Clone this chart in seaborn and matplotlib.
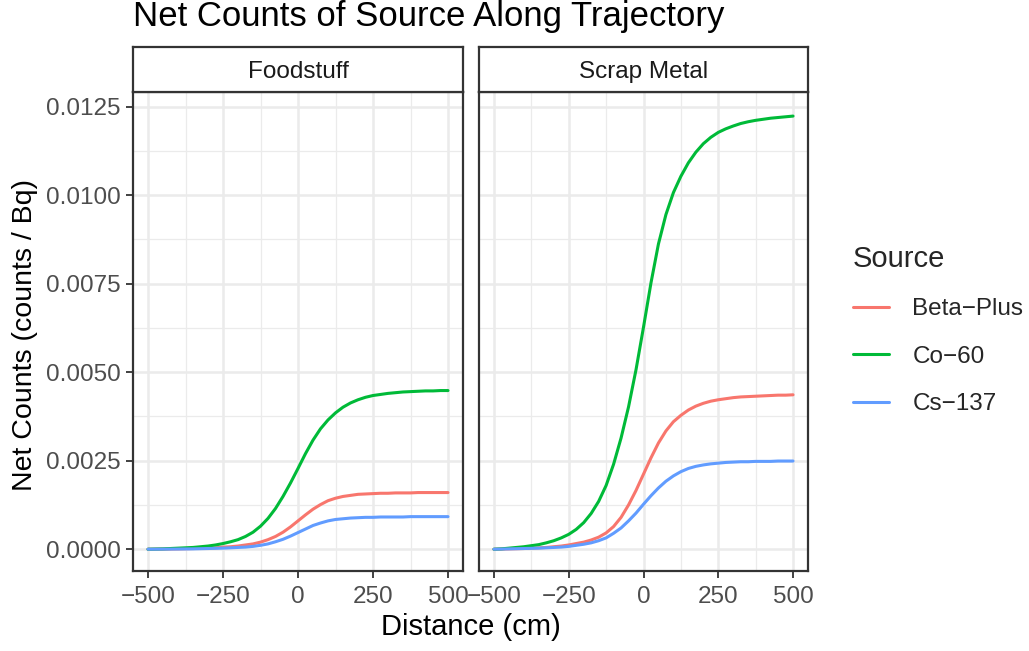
import numpy as np
import pandas as pd
import matplotlib
matplotlib.use("Agg")
import matplotlib.pyplot as plt
import seaborn as sns
from matplotlib.lines import Line2D

# ---- data ----
distance = [-500, -475, -450, -425, -400, -375, -350, -325, -300, -275, -250,
            -225, -200, -175, -150, -125, -100, -75, -50, -25, 0,
            25, 50, 75, 100, 125, 150, 175, 200, 225, 250,
            275, 300, 325, 350, 375, 400, 425, 450, 475, 500]
sources = ["Beta\u2212Plus", "Co\u221260", "Cs\u2212137"]
materials = ["Foodstuff", "Scrap Metal"]

food_beta = [0.0, 0.000002, 0.000005, 0.000007, 0.00001, 0.000015, 0.00002, 0.000025, 0.00003, 0.00004, 0.00006,
             0.00007, 0.00009, 0.00012, 0.00015, 0.00020, 0.00027, 0.00036, 0.00048, 0.00063, 0.00080,
             0.00097, 0.00113, 0.00126, 0.00137, 0.00144, 0.00149, 0.00152, 0.00155, 0.00156, 0.00157,
             0.00158, 0.00158, 0.00159, 0.00159, 0.00159, 0.00160, 0.00160, 0.00160, 0.00160, 0.00160]
food_co60 = [0.0, 0.000005, 0.00001, 0.00002, 0.00003, 0.00004, 0.00005, 0.00007, 0.00009, 0.00012, 0.00016,
             0.00021, 0.00027, 0.00036, 0.00048, 0.00065, 0.00087, 0.00115, 0.00149, 0.00187, 0.00228,
             0.00270, 0.00308, 0.00340, 0.00365, 0.00385, 0.00401, 0.00413, 0.00422, 0.00429, 0.00434,
             0.00437, 0.00440, 0.00442, 0.00444, 0.00445, 0.00446, 0.00447, 0.00447, 0.00448, 0.00448]
food_cs137 = [0.0, 0.000001, 0.000003, 0.000004, 0.000006, 0.000008, 0.00001, 0.000015, 0.00002, 0.000025, 0.00003,
              0.00004, 0.00005, 0.00006, 0.00008, 0.00011, 0.00015, 0.00021, 0.00028, 0.00037, 0.00047,
              0.00057, 0.00067, 0.00074, 0.00080, 0.00084, 0.00086, 0.00088, 0.00089, 0.00090, 0.00090,
              0.00091, 0.00091, 0.00091, 0.00091, 0.00092, 0.00092, 0.00092, 0.00092, 0.00092, 0.00092]
scrap_beta = [0.0, 0.000005, 0.00001, 0.000015, 0.00002, 0.00003, 0.00004, 0.00005, 0.00007, 0.00009, 0.00012,
              0.00016, 0.00020, 0.00026, 0.00034, 0.00046, 0.00064, 0.00090, 0.00125, 0.00166, 0.00212,
              0.00258, 0.00300, 0.00334, 0.00360, 0.00378, 0.00393, 0.00404, 0.00412, 0.00418, 0.00422,
              0.00425, 0.00428, 0.00430, 0.00431, 0.00432, 0.00433, 0.00434, 0.00435, 0.00435, 0.00436]
scrap_co60 = [0.0, 0.00001, 0.00003, 0.00005, 0.00007, 0.00010, 0.00013, 0.00018, 0.00024, 0.00032, 0.00042,
              0.00056, 0.00075, 0.00101, 0.00135, 0.00180, 0.00240, 0.00314, 0.00402, 0.00507, 0.00627,
              0.00752, 0.00862, 0.00945, 0.01007, 0.01053, 0.01091, 0.01121, 0.01145, 0.01163, 0.01177,
              0.01187, 0.01195, 0.01202, 0.01207, 0.01211, 0.01214, 0.01217, 0.01219, 0.01221, 0.01223]
scrap_cs137 = [0.0, 0.000005, 0.00001, 0.000015, 0.00002, 0.000025, 0.00003, 0.00004, 0.00005, 0.00006, 0.00008,
               0.00011, 0.00014, 0.00018, 0.00024, 0.00032, 0.00045, 0.00060, 0.00080, 0.00102, 0.00127,
               0.00151, 0.00173, 0.00192, 0.00207, 0.00219, 0.00228, 0.00234, 0.00238, 0.00241, 0.00243,
               0.00245, 0.00246, 0.00247, 0.00247, 0.00248, 0.00248, 0.00248, 0.00249, 0.00249, 0.00249]

x_ticks = [-500, -250, 0, 250, 500]
y_ticks = [0.0, 0.0025, 0.0050, 0.0075, 0.0100, 0.0125]
y_tick_labels = ["0.0000", "0.0025", "0.0050", "0.0075", "0.0100", "0.0125"]
x_tick_labels = ["\u2212500", "\u2212250", "0", "250", "500"]

series = {
    ("Foodstuff", sources[0]): food_beta,
    ("Foodstuff", sources[1]): food_co60,
    ("Foodstuff", sources[2]): food_cs137,
    ("Scrap Metal", sources[0]): scrap_beta,
    ("Scrap Metal", sources[1]): scrap_co60,
    ("Scrap Metal", sources[2]): scrap_cs137,
}
rows = []
for (mat, src), vals in series.items():
    for d, v in zip(distance, vals):
        rows.append({"Material": mat, "Source": src, "Distance": d, "Counts": v})
df = pd.DataFrame(rows)

# ---- style ----
sns.set_theme(style="white")
plt.rcParams["font.family"] = ["Liberation Sans", "DejaVu Sans"]
palette = {sources[0]: "#F8766D", sources[1]: "#00BA38", sources[2]: "#619CFF"}

W, H = 1029, 651
fig = plt.figure(figsize=(W / 100, H / 100), dpi=100)
fig.patch.set_facecolor("white")

panel_top, panel_bot = 92, 571
strip_top = 47
panels_x = [(133, 463), (479, 808)]

def fx(px):
    return px / W

def fy(py):
    return 1 - py / H

for i, (mat, (x0, x1)) in enumerate(zip(materials, panels_x)):
    ax = fig.add_axes([fx(x0), fy(panel_bot), fx(x1) - fx(x0), fy(panel_top) - fy(panel_bot)])
    sub = df[df["Material"] == mat]
    sns.lineplot(data=sub, x="Distance", y="Counts", hue="Source", palette=palette,
                 hue_order=sources, ax=ax, linewidth=2.2, legend=False, sort=True)
    ax.set_xlim(-550, 550)
    ax.set_ylim(-0.000615, 0.01291)
    ax.set_xticks(x_ticks)
    ax.set_xticks([-375, -125, 125, 375], minor=True)
    ax.set_yticks(y_ticks)
    ax.set_yticks([0.00125, 0.00375, 0.00625, 0.00875, 0.01125], minor=True)
    ax.set_xticklabels(x_tick_labels)
    ax.set_yticklabels(y_tick_labels)
    ax.grid(True, which="major", color="#EBEBEB", linewidth=1.8)
    ax.grid(True, which="minor", color="#EBEBEB", linewidth=0.9)
    ax.set_axisbelow(True)
    for s in ax.spines.values():
        s.set_color("#333333")
        s.set_linewidth(1.6)
    ax.tick_params(axis="both", which="major", length=5, width=1.3, color="#333333",
                   labelsize=17.5, labelcolor="#4D4D4D", bottom=True, left=True)
    ax.tick_params(axis="x", which="major", pad=6)
    ax.tick_params(axis="y", which="major", pad=4)
    ax.tick_params(axis="both", which="minor", length=0)
    ax.set_xlabel("")
    ax.set_ylabel("")
    if i == 1:
        ax.tick_params(axis="y", which="major", left=False, labelleft=False)

    # strip
    sax = fig.add_axes([fx(x0), fy(panel_top), fx(x1) - fx(x0), fy(strip_top) - fy(panel_top)])
    sax.set_facecolor("white")
    sax.set_xticks([])
    sax.set_yticks([])
    for s in sax.spines.values():
        s.set_color("#333333")
        s.set_linewidth(1.6)
    sax.text(0.5, 0.45, mat, ha="center", va="center", fontsize=17.5, color="#1A1A1A",
             transform=sax.transAxes)

# axis titles
fig.text(fx(471), fy(627), "Distance (cm)", ha="center", va="center", fontsize=21, color="black")
fig.text(fx(25), fy(335), "Net Counts (counts / Bq)", ha="center", va="center",
         rotation=90, fontsize=20.5, color="black")
# title
fig.text(fx(133), fy(26), "Net Counts of Source Along Trajectory", ha="left", va="baseline",
         fontsize=25, color="black")

# legend
handles = [Line2D([0], [0], color=palette[s], linewidth=2.2) for s in sources]
leg = fig.legend(handles, sources, title="Source", loc="upper left",
                 bbox_to_anchor=(fx(831), fy(223)), frameon=False, fontsize=17.5,
                 title_fontsize=21, handlelength=1.5, handletextpad=0.95,
                 labelspacing=1.05, alignment="left")

fig.savefig("out.png", dpi=100, facecolor="white")
